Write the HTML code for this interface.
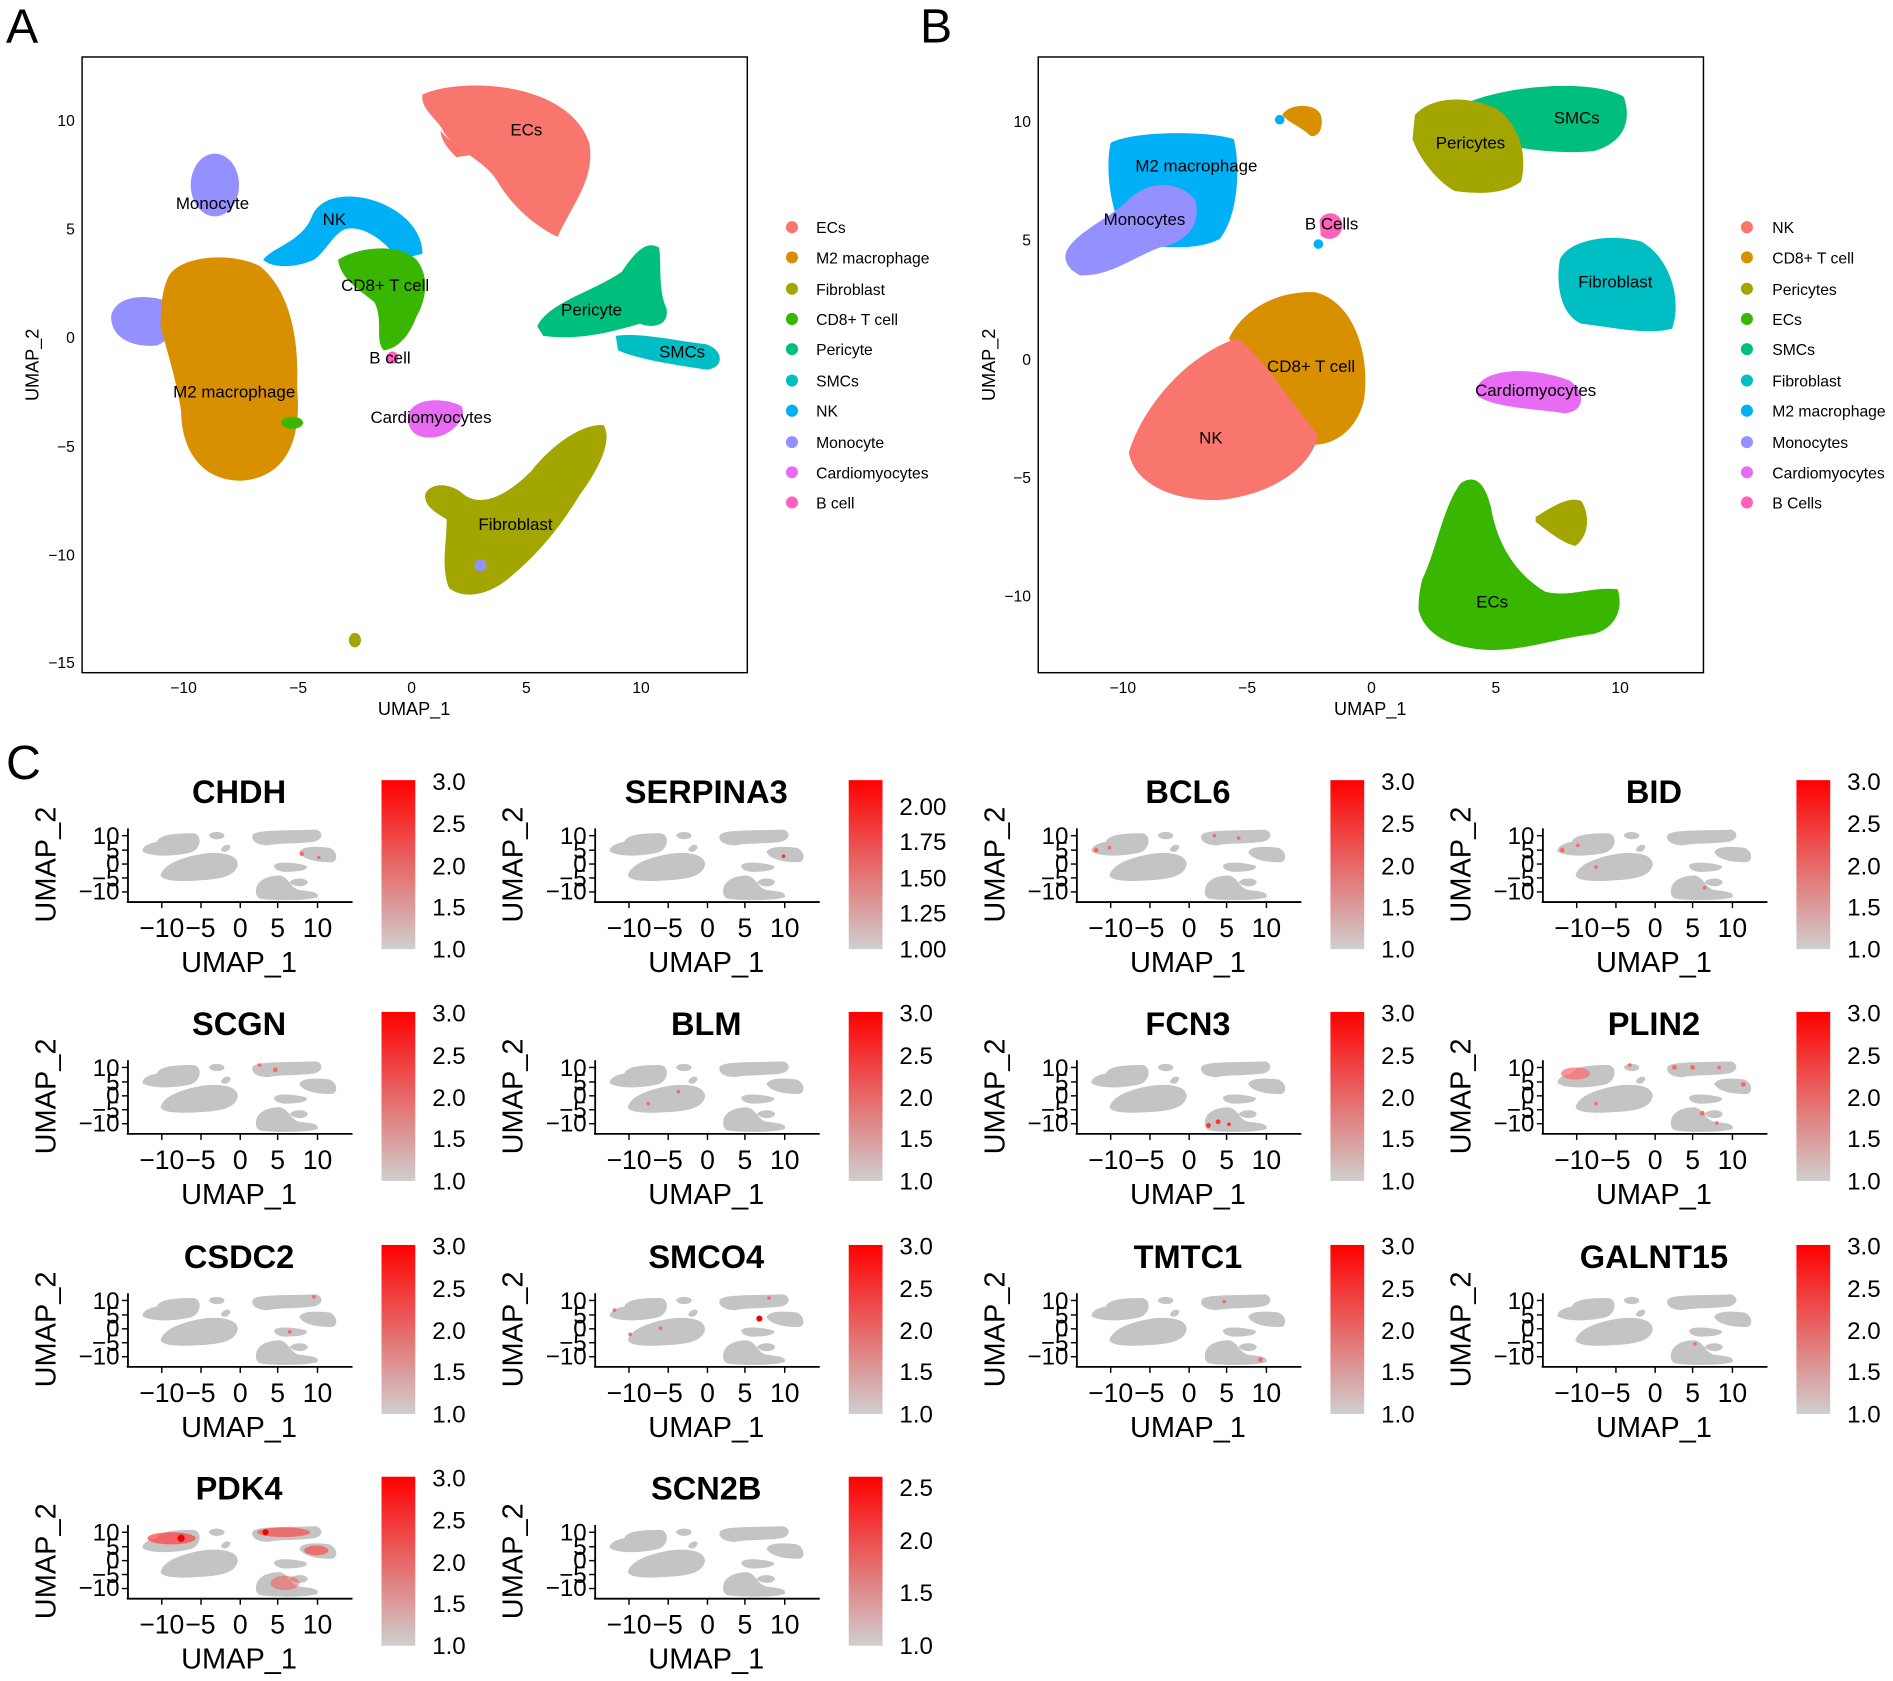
<!DOCTYPE html>
<html><head><meta charset="utf-8"><style>html,body{margin:0;padding:0;background:#fff}svg{display:block}text{font-family:"Liberation Sans",Arial,sans-serif}</style></head><body>
<svg width="1893" height="1681" viewBox="0 0 1568 1392" xmlns="http://www.w3.org/2000/svg">
<defs>
<linearGradient id="cb" x1="0" y1="0" x2="0" y2="1"><stop offset="0" stop-color="#ff0000"/><stop offset="1" stop-color="#cfcfcf"/></linearGradient>
<g id="mini" fill="#c4c4c4">
<path d="M118,705 C118,700 125,698 130,697 C132,692 140,690 160,690 C168,691 167,703 158,706 C145,709 125,710 118,705 Z"/>
<path d="M133,725 C135,716 150,710 168,707 C185,705 197,708 197,716 C195,725 185,728 165,729 C150,730 135,730 133,725 Z"/>
<path d="M173,692 C174,688 185,688 186,692 C185,696 175,696 173,692 Z"/>
<path d="M183,704 C184,700 189,698 191,701 C190,705 186,707 183,704 Z"/>
<path d="M209,692 C211,687 230,688 262,687 C268,689 268,695 260,697 C245,699 230,698 222,700 C214,700 208,697 209,692 Z"/>
<path d="M248,706 C249,700 265,701 273,702 C280,705 280,713 275,714 C262,714 252,712 248,706 Z"/>
<path d="M227,717 C228,713 245,714 254,717 C256,721 245,722 235,722 C229,721 227,719 227,717 Z"/>
<path d="M212,738 C212,730 220,725 232,725 C240,727 240,735 248,737 C258,738 265,739 263,743 C255,746 225,746 215,744 C212,742 212,740 212,738 Z"/>
<path d="M240,731 C241,727 252,726 255,730 C255,734 246,736 240,731 Z"/>
</g>
<g id="cbar"><rect x="316" y="646" width="28" height="140" fill="url(#cb)"/></g>
<g id="ax">
<line x1="106" y1="686" x2="106" y2="747" stroke="#000" stroke-width="1.5"/>
<line x1="105" y1="747" x2="292" y2="747" stroke="#000" stroke-width="1.5"/>
<g stroke="#000" stroke-width="1.2"><line x1="134" y1="747" x2="134" y2="752"/><line x1="166.5" y1="747" x2="166.5" y2="752"/><line x1="199" y1="747" x2="199" y2="752"/><line x1="230" y1="747" x2="230" y2="752"/><line x1="263" y1="747" x2="263" y2="752"/>
<line x1="101" y1="692" x2="106" y2="692"/><line x1="101" y1="704" x2="106" y2="704"/><line x1="101" y1="715.5" x2="106" y2="715.5"/><line x1="101" y1="727" x2="106" y2="727"/><line x1="101" y1="738.6" x2="106" y2="738.6"/></g>
</g>
</defs>

<text x="5" y="35" font-size="40">A</text>
<text x="762" y="35" font-size="40">B</text>
<text x="5" y="645" font-size="40">C</text>

<!-- Panel A -->
<rect x="68" y="47" width="551" height="510" fill="none" stroke="#000" stroke-width="1.2"/>
<g font-size="13" text-anchor="middle">
<text x="152" y="574">−10</text><text x="247" y="574">−5</text><text x="341" y="574">0</text><text x="436" y="574">5</text><text x="531" y="574">10</text></g>
<g font-size="13" text-anchor="end">
<text x="62" y="104">10</text><text x="62" y="194">5</text><text x="62" y="284">0</text><text x="62" y="374">−5</text><text x="62" y="464">−10</text><text x="62" y="553">−15</text></g>
<text x="343" y="592" font-size="15" text-anchor="middle">UMAP_1</text>
<text transform="translate(32,302) rotate(-90)" font-size="15" text-anchor="middle">UMAP_2</text>
<path d="M350,78 C380,64 470,66 488,118 C494,148 472,172 462,196 C445,188 425,172 412,150 C402,132 372,122 366,106 C358,95 348,88 350,78 Z" fill="#F8766D"/>
<path d="M365,108 C372,118 385,122 392,128 L378,130 C370,122 365,115 365,108Z" fill="#F8766D"/>
<ellipse cx="178" cy="153" rx="20" ry="26" fill="#9590FF"/>
<path d="M92,262 C95,245 120,242 140,250 C148,262 145,280 130,286 C110,288 92,280 92,262Z" fill="#9590FF"/>
<path d="M218,215 C225,205 250,200 258,180 C265,160 295,158 320,170 C340,180 350,195 350,210 L330,215 C320,200 300,185 285,190 C275,195 270,208 260,215 C245,222 225,222 218,215Z" fill="#00B0F6"/>
<path d="M280,215 C295,205 330,200 345,215 C357,230 352,250 345,262 C340,275 332,288 318,290 C310,282 318,265 310,250 C295,238 282,230 280,215Z" fill="#39B600"/>
<path d="M140,228 C150,212 190,208 215,220 C240,240 248,280 246,320 C250,360 240,395 200,398 C165,398 150,370 150,340 C145,310 138,290 133,270 C133,250 135,238 140,228Z" fill="#D89000"/>
<ellipse cx="242" cy="350" rx="9" ry="5" fill="#39B600"/>
<circle cx="325" cy="296" r="5" fill="#FF62BC"/>
<path d="M445,270 C455,250 490,242 515,225 C525,210 535,198 546,205 C548,220 545,240 552,255 C555,270 540,272 530,268 C505,275 480,282 450,278Z" fill="#00BF7D"/>
<path d="M510,278 C530,275 560,282 585,285 C600,290 600,305 585,306 C560,302 530,298 512,290Z" fill="#00BFC4"/>
<path d="M338,345 C340,330 365,328 382,336 C388,345 375,360 360,362 C345,364 337,356 338,345Z" fill="#E76BF3"/>
<path d="M352,410 C355,400 372,398 385,410 C400,420 420,410 440,390 C460,365 485,350 500,352 C508,365 495,390 480,410 C465,435 445,460 420,480 C405,492 385,497 372,487 C365,470 370,450 370,430 C362,425 352,420 352,410Z" fill="#A3A500"/>
<circle cx="398" cy="468" r="5" fill="#9590FF"/>
<ellipse cx="294" cy="530" rx="5" ry="6" fill="#A3A500"/>
<g font-size="14" text-anchor="middle">
<text x="436" y="112">ECs</text><text x="176" y="173">Monocyte</text><text x="277" y="186">NK</text><text x="319" y="241">CD8+ T cell</text><text x="490" y="261">Pericyte</text><text x="323" y="301">B cell</text><text x="565" y="296">SMCs</text><text x="194" y="329">M2 macrophage</text><text x="357" y="350">Cardiomyocytes</text><text x="427" y="439">Fibroblast</text></g>
<g font-size="13">
<circle cx="656" cy="188" r="5" fill="#F8766D"/><text x="676" y="193">ECs</text>
<circle cx="656" cy="213" r="5" fill="#D89000"/><text x="676" y="218">M2 macrophage</text>
<circle cx="656" cy="239" r="5" fill="#A3A500"/><text x="676" y="244">Fibroblast</text>
<circle cx="656" cy="264" r="5" fill="#39B600"/><text x="676" y="269">CD8+ T cell</text>
<circle cx="656" cy="289" r="5" fill="#00BF7D"/><text x="676" y="294">Pericyte</text>
<circle cx="656" cy="315" r="5" fill="#00BFC4"/><text x="676" y="320">SMCs</text>
<circle cx="656" cy="340" r="5" fill="#00B0F6"/><text x="676" y="345">NK</text>
<circle cx="656" cy="366" r="5" fill="#9590FF"/><text x="676" y="371">Monocyte</text>
<circle cx="656" cy="391" r="5" fill="#E76BF3"/><text x="676" y="396">Cardiomyocytes</text>
<circle cx="656" cy="416" r="5" fill="#FF62BC"/><text x="676" y="421">B cell</text></g>

<!-- Panel B -->
<rect x="860" y="47" width="551" height="510" fill="none" stroke="#000" stroke-width="1.2"/>
<g font-size="13" text-anchor="middle">
<text x="930" y="574">−10</text><text x="1033" y="574">−5</text><text x="1136" y="574">0</text><text x="1239" y="574">5</text><text x="1342" y="574">10</text></g>
<g font-size="13" text-anchor="end">
<text x="854" y="105">10</text><text x="854" y="203">5</text><text x="854" y="302">0</text><text x="854" y="400">−5</text><text x="854" y="498">−10</text></g>
<text x="1135" y="592" font-size="15" text-anchor="middle">UMAP_1</text>
<text transform="translate(824,302) rotate(-90)" font-size="15" text-anchor="middle">UMAP_2</text>
<path d="M920,118 C940,108 1000,108 1022,115 C1028,140 1025,180 1010,198 C990,208 960,205 935,200 C920,180 915,140 920,118Z" fill="#00B0F6"/>
<path d="M885,205 C895,190 920,180 935,165 C950,150 975,148 990,165 C995,185 985,200 960,205 C935,215 920,228 895,228 C882,222 880,212 885,205Z" fill="#9590FF"/>
<path d="M1062,95 C1068,85 1090,85 1094,95 C1097,105 1092,115 1085,112 C1078,105 1068,102 1062,95Z" fill="#D89000"/>
<circle cx="1060" cy="99" r="4" fill="#00B0F6"/>
<path d="M1093,182 C1098,173 1112,175 1112,188 C1110,198 1100,200 1094,195Z" fill="#FF62BC"/>
<circle cx="1092" cy="202" r="4" fill="#00B0F6"/>
<path d="M1215,85 C1250,70 1320,65 1345,80 C1352,100 1345,118 1320,125 C1290,128 1250,122 1225,115Z" fill="#00BF7D"/>
<path d="M1172,95 C1185,80 1215,78 1240,90 C1260,105 1265,130 1260,150 C1245,162 1220,160 1205,158 C1190,150 1175,130 1170,115Z" fill="#A3A500"/>
<path d="M1292,215 C1298,200 1330,192 1360,200 C1385,215 1393,250 1385,272 C1365,278 1330,270 1310,268 C1295,262 1288,240 1292,215Z" fill="#00BFC4"/>
<path d="M1224,320 C1230,305 1270,303 1300,315 C1315,325 1312,342 1295,342 C1270,338 1240,338 1224,328Z" fill="#E76BF3"/>
<path d="M1018,280 C1030,255 1060,240 1090,242 C1120,250 1135,290 1130,330 C1125,355 1105,370 1085,368 C1060,350 1040,320 1018,280Z" fill="#D89000"/>
<path d="M935,375 C945,340 980,295 1025,280 C1050,300 1070,335 1092,360 C1085,390 1050,410 1010,414 C970,415 940,400 935,375Z" fill="#F8766D"/>
<path d="M1178,480 C1190,455 1195,420 1210,400 C1222,392 1230,400 1235,420 C1240,450 1255,475 1280,490 C1300,495 1320,485 1340,488 C1345,505 1338,520 1320,525 C1290,528 1260,540 1230,538 C1200,536 1180,525 1175,505 C1175,495 1176,488 1178,480Z" fill="#39B600"/>
<path d="M1272,428 C1285,420 1300,410 1310,415 C1318,428 1315,445 1305,452 C1295,450 1282,440 1272,432Z" fill="#A3A500"/>
<g font-size="14" text-anchor="middle">
<text x="1306" y="102">SMCs</text><text x="1218" y="123">Pericytes</text><text x="991" y="142">M2 macrophage</text><text x="948" y="186">Monocytes</text><text x="1103" y="190">B Cells</text><text x="1338" y="238">Fibroblast</text><text x="1086" y="308">CD8+ T cell</text><text x="1272" y="328">Cardiomyocytes</text><text x="1003" y="367">NK</text><text x="1236" y="503">ECs</text></g>
<g font-size="13">
<circle cx="1447" cy="188" r="5" fill="#F8766D"/><text x="1468" y="193">NK</text>
<circle cx="1447" cy="213" r="5" fill="#D89000"/><text x="1468" y="218">CD8+ T cell</text>
<circle cx="1447" cy="239" r="5" fill="#A3A500"/><text x="1468" y="244">Pericytes</text>
<circle cx="1447" cy="264" r="5" fill="#39B600"/><text x="1468" y="269">ECs</text>
<circle cx="1447" cy="289" r="5" fill="#00BF7D"/><text x="1468" y="294">SMCs</text>
<circle cx="1447" cy="315" r="5" fill="#00BFC4"/><text x="1468" y="320">Fibroblast</text>
<circle cx="1447" cy="340" r="5" fill="#00B0F6"/><text x="1468" y="345">M2 macrophage</text>
<circle cx="1447" cy="366" r="5" fill="#9590FF"/><text x="1468" y="371">Monocytes</text>
<circle cx="1447" cy="391" r="5" fill="#E76BF3"/><text x="1468" y="396">Cardiomyocytes</text>
<circle cx="1447" cy="416" r="5" fill="#FF62BC"/><text x="1468" y="421">B Cells</text></g>

<!-- Panel C -->
<g>
<use href="#mini"/><use href="#ax"/><use href="#cbar"/>
<text x="198" y="665" font-size="27" font-weight="bold" text-anchor="middle">CHDH</text>
<g font-size="22" text-anchor="middle"><text x="134" y="776">−10</text><text x="166" y="776">−5</text><text x="199" y="776">0</text><text x="230" y="776">5</text><text x="263" y="776">10</text></g>
<text x="198" y="805" font-size="24" text-anchor="middle">UMAP_1</text>
<text transform="translate(46,716) rotate(-90)" font-size="24" text-anchor="middle">UMAP_2</text>
<g font-size="20" text-anchor="end"><text x="99" y="699">10</text><text x="99" y="711">5</text><text x="99" y="722">0</text><text x="99" y="734">−5</text><text x="99" y="745">−10</text></g>
<g font-size="20"><text x="358" y="654">3.0</text><text x="358" y="689">2.5</text><text x="358" y="724">2.0</text><text x="358" y="758">1.5</text><text x="358" y="793">1.0</text></g>
</g>
<g fill="#f66"><circle cx="250" cy="707" r="1.8"/><circle cx="264" cy="710" r="1.5"/></g>

<g transform="translate(387,0)">
<use href="#mini"/><use href="#ax"/><use href="#cbar"/>
<text x="198" y="665" font-size="27" font-weight="bold" text-anchor="middle">SERPINA3</text>
<g font-size="22" text-anchor="middle"><text x="134" y="776">−10</text><text x="166" y="776">−5</text><text x="199" y="776">0</text><text x="230" y="776">5</text><text x="263" y="776">10</text></g>
<text x="198" y="805" font-size="24" text-anchor="middle">UMAP_1</text>
<text transform="translate(46,716) rotate(-90)" font-size="24" text-anchor="middle">UMAP_2</text>
<g font-size="20" text-anchor="end"><text x="99" y="699">10</text><text x="99" y="711">5</text><text x="99" y="722">0</text><text x="99" y="734">−5</text><text x="99" y="745">−10</text></g>
<g font-size="20"><text x="358" y="675">2.00</text><text x="358" y="704">1.75</text><text x="358" y="734">1.50</text><text x="358" y="763">1.25</text><text x="358" y="793">1.00</text></g>
<circle cx="262" cy="709" r="1.5" fill="#f33"/>
</g>

<g transform="translate(786,0)">
<use href="#mini"/><use href="#ax"/><use href="#cbar"/>
<text x="198" y="665" font-size="27" font-weight="bold" text-anchor="middle">BCL6</text>
<g font-size="22" text-anchor="middle"><text x="134" y="776">−10</text><text x="166" y="776">−5</text><text x="199" y="776">0</text><text x="230" y="776">5</text><text x="263" y="776">10</text></g>
<text x="198" y="805" font-size="24" text-anchor="middle">UMAP_1</text>
<text transform="translate(46,716) rotate(-90)" font-size="24" text-anchor="middle">UMAP_2</text>
<g font-size="20" text-anchor="end"><text x="99" y="699">10</text><text x="99" y="711">5</text><text x="99" y="722">0</text><text x="99" y="734">−5</text><text x="99" y="745">−10</text></g>
<g font-size="20"><text x="358" y="654">3.0</text><text x="358" y="689">2.5</text><text x="358" y="724">2.0</text><text x="358" y="758">1.5</text><text x="358" y="793">1.0</text></g>
<g fill="#f66"><circle cx="122" cy="704" r="2"/><circle cx="133" cy="702" r="1.5"/><circle cx="220" cy="692" r="1.5"/><circle cx="240" cy="694" r="1.5"/></g>
</g>

<g transform="translate(1172,0)">
<use href="#mini"/><use href="#ax"/><use href="#cbar"/>
<text x="198" y="665" font-size="27" font-weight="bold" text-anchor="middle">BID</text>
<g font-size="22" text-anchor="middle"><text x="134" y="776">−10</text><text x="166" y="776">−5</text><text x="199" y="776">0</text><text x="230" y="776">5</text><text x="263" y="776">10</text></g>
<text x="198" y="805" font-size="24" text-anchor="middle">UMAP_1</text>
<text transform="translate(46,716) rotate(-90)" font-size="24" text-anchor="middle">UMAP_2</text>
<g font-size="20" text-anchor="end"><text x="99" y="699">10</text><text x="99" y="711">5</text><text x="99" y="722">0</text><text x="99" y="734">−5</text><text x="99" y="745">−10</text></g>
<g font-size="20"><text x="358" y="654">3.0</text><text x="358" y="689">2.5</text><text x="358" y="724">2.0</text><text x="358" y="758">1.5</text><text x="358" y="793">1.0</text></g>
<g fill="#f66"><circle cx="122" cy="704" r="2"/><circle cx="135" cy="700" r="1.5"/><circle cx="150" cy="718" r="1.5"/><circle cx="240" cy="735" r="1.5"/></g>
</g>

<g transform="translate(0,192)">
<use href="#mini"/><use href="#ax"/><use href="#cbar"/>
<text x="198" y="665" font-size="27" font-weight="bold" text-anchor="middle">SCGN</text>
<g font-size="22" text-anchor="middle"><text x="134" y="776">−10</text><text x="166" y="776">−5</text><text x="199" y="776">0</text><text x="230" y="776">5</text><text x="263" y="776">10</text></g>
<text x="198" y="805" font-size="24" text-anchor="middle">UMAP_1</text>
<text transform="translate(46,716) rotate(-90)" font-size="24" text-anchor="middle">UMAP_2</text>
<g font-size="20" text-anchor="end"><text x="99" y="699">10</text><text x="99" y="711">5</text><text x="99" y="722">0</text><text x="99" y="734">−5</text><text x="99" y="745">−10</text></g>
<g font-size="20"><text x="358" y="654">3.0</text><text x="358" y="689">2.5</text><text x="358" y="724">2.0</text><text x="358" y="758">1.5</text><text x="358" y="793">1.0</text></g>
<g fill="#f66"><circle cx="215" cy="690" r="1.5"/><circle cx="228" cy="694" r="2"/></g>
</g>

<g transform="translate(387,192)">
<use href="#mini"/><use href="#ax"/><use href="#cbar"/>
<text x="198" y="665" font-size="27" font-weight="bold" text-anchor="middle">BLM</text>
<g font-size="22" text-anchor="middle"><text x="134" y="776">−10</text><text x="166" y="776">−5</text><text x="199" y="776">0</text><text x="230" y="776">5</text><text x="263" y="776">10</text></g>
<text x="198" y="805" font-size="24" text-anchor="middle">UMAP_1</text>
<text transform="translate(46,716) rotate(-90)" font-size="24" text-anchor="middle">UMAP_2</text>
<g font-size="20" text-anchor="end"><text x="99" y="699">10</text><text x="99" y="711">5</text><text x="99" y="722">0</text><text x="99" y="734">−5</text><text x="99" y="745">−10</text></g>
<g font-size="20"><text x="358" y="654">3.0</text><text x="358" y="689">2.5</text><text x="358" y="724">2.0</text><text x="358" y="758">1.5</text><text x="358" y="793">1.0</text></g>
<g fill="#f66"><circle cx="150" cy="722" r="1.5"/><circle cx="175" cy="712" r="1.5"/></g>
</g>

<g transform="translate(786,192)">
<use href="#mini"/><use href="#ax"/><use href="#cbar"/>
<text x="198" y="665" font-size="27" font-weight="bold" text-anchor="middle">FCN3</text>
<g font-size="22" text-anchor="middle"><text x="134" y="776">−10</text><text x="166" y="776">−5</text><text x="199" y="776">0</text><text x="230" y="776">5</text><text x="263" y="776">10</text></g>
<text x="198" y="805" font-size="24" text-anchor="middle">UMAP_1</text>
<text transform="translate(46,716) rotate(-90)" font-size="24" text-anchor="middle">UMAP_2</text>
<g font-size="20" text-anchor="end"><text x="99" y="699">10</text><text x="99" y="711">5</text><text x="99" y="722">0</text><text x="99" y="734">−5</text><text x="99" y="745">−10</text></g>
<g font-size="20"><text x="358" y="654">3.0</text><text x="358" y="689">2.5</text><text x="358" y="724">2.0</text><text x="358" y="758">1.5</text><text x="358" y="793">1.0</text></g>
<g fill="#f33"><circle cx="215" cy="740" r="2"/><circle cx="223" cy="737" r="2"/><circle cx="232" cy="739" r="1.5"/></g>
</g>

<g transform="translate(1172,192)">
<use href="#mini"/><use href="#ax"/><use href="#cbar"/>
<text x="198" y="665" font-size="27" font-weight="bold" text-anchor="middle">PLIN2</text>
<g font-size="22" text-anchor="middle"><text x="134" y="776">−10</text><text x="166" y="776">−5</text><text x="199" y="776">0</text><text x="230" y="776">5</text><text x="263" y="776">10</text></g>
<text x="198" y="805" font-size="24" text-anchor="middle">UMAP_1</text>
<text transform="translate(46,716) rotate(-90)" font-size="24" text-anchor="middle">UMAP_2</text>
<g font-size="20" text-anchor="end"><text x="99" y="699">10</text><text x="99" y="711">5</text><text x="99" y="722">0</text><text x="99" y="734">−5</text><text x="99" y="745">−10</text></g>
<g font-size="20"><text x="358" y="654">3.0</text><text x="358" y="689">2.5</text><text x="358" y="724">2.0</text><text x="358" y="758">1.5</text><text x="358" y="793">1.0</text></g>
<g fill="#f66"><ellipse cx="133" cy="697" rx="12" ry="5" opacity=".7"/><circle cx="178" cy="690" r="1.5"/><circle cx="215" cy="692" r="2"/><circle cx="230" cy="692" r="2"/><circle cx="252" cy="692" r="1.5"/><circle cx="272" cy="706" r="2"/><circle cx="150" cy="722" r="1.5"/><circle cx="238" cy="730" r="2"/><circle cx="250" cy="738" r="1.5"/></g>
</g>

<g transform="translate(0,385)">
<use href="#mini"/><use href="#ax"/><use href="#cbar"/>
<text x="198" y="665" font-size="27" font-weight="bold" text-anchor="middle">CSDC2</text>
<g font-size="22" text-anchor="middle"><text x="134" y="776">−10</text><text x="166" y="776">−5</text><text x="199" y="776">0</text><text x="230" y="776">5</text><text x="263" y="776">10</text></g>
<text x="198" y="805" font-size="24" text-anchor="middle">UMAP_1</text>
<text transform="translate(46,716) rotate(-90)" font-size="24" text-anchor="middle">UMAP_2</text>
<g font-size="20" text-anchor="end"><text x="99" y="699">10</text><text x="99" y="711">5</text><text x="99" y="722">0</text><text x="99" y="734">−5</text><text x="99" y="745">−10</text></g>
<g font-size="20"><text x="358" y="654">3.0</text><text x="358" y="689">2.5</text><text x="358" y="724">2.0</text><text x="358" y="758">1.5</text><text x="358" y="793">1.0</text></g>
<g fill="#f66"><circle cx="260" cy="689" r="1.5"/><circle cx="240" cy="718" r="1.5"/></g>
</g>

<g transform="translate(387,385)">
<use href="#mini"/><use href="#ax"/><use href="#cbar"/>
<text x="198" y="665" font-size="27" font-weight="bold" text-anchor="middle">SMCO4</text>
<g font-size="22" text-anchor="middle"><text x="134" y="776">−10</text><text x="166" y="776">−5</text><text x="199" y="776">0</text><text x="230" y="776">5</text><text x="263" y="776">10</text></g>
<text x="198" y="805" font-size="24" text-anchor="middle">UMAP_1</text>
<text transform="translate(46,716) rotate(-90)" font-size="24" text-anchor="middle">UMAP_2</text>
<g font-size="20" text-anchor="end"><text x="99" y="699">10</text><text x="99" y="711">5</text><text x="99" y="722">0</text><text x="99" y="734">−5</text><text x="99" y="745">−10</text></g>
<g font-size="20"><text x="358" y="654">3.0</text><text x="358" y="689">2.5</text><text x="358" y="724">2.0</text><text x="358" y="758">1.5</text><text x="358" y="793">1.0</text></g>
<g fill="#f66"><circle cx="122" cy="700" r="1.5"/><circle cx="135" cy="720" r="1.5"/><circle cx="160" cy="715" r="1.5"/><circle cx="242" cy="707" r="2.5" fill="#e00"/><circle cx="250" cy="690" r="1.5"/></g>
</g>

<g transform="translate(786,385)">
<use href="#mini"/><use href="#ax"/><use href="#cbar"/>
<text x="198" y="665" font-size="27" font-weight="bold" text-anchor="middle">TMTC1</text>
<g font-size="22" text-anchor="middle"><text x="134" y="776">−10</text><text x="166" y="776">−5</text><text x="199" y="776">0</text><text x="230" y="776">5</text><text x="263" y="776">10</text></g>
<text x="198" y="805" font-size="24" text-anchor="middle">UMAP_1</text>
<text transform="translate(46,716) rotate(-90)" font-size="24" text-anchor="middle">UMAP_2</text>
<g font-size="20" text-anchor="end"><text x="99" y="699">10</text><text x="99" y="711">5</text><text x="99" y="722">0</text><text x="99" y="734">−5</text><text x="99" y="745">−10</text></g>
<g font-size="20"><text x="358" y="654">3.0</text><text x="358" y="689">2.5</text><text x="358" y="724">2.0</text><text x="358" y="758">1.5</text><text x="358" y="793">1.0</text></g>
<g fill="#f66"><circle cx="228" cy="693" r="1.5"/><circle cx="258" cy="741" r="2"/></g>
</g>

<g transform="translate(1172,385)">
<use href="#mini"/><use href="#ax"/><use href="#cbar"/>
<text x="198" y="665" font-size="27" font-weight="bold" text-anchor="middle">GALNT15</text>
<g font-size="22" text-anchor="middle"><text x="134" y="776">−10</text><text x="166" y="776">−5</text><text x="199" y="776">0</text><text x="230" y="776">5</text><text x="263" y="776">10</text></g>
<text x="198" y="805" font-size="24" text-anchor="middle">UMAP_1</text>
<text transform="translate(46,716) rotate(-90)" font-size="24" text-anchor="middle">UMAP_2</text>
<g font-size="20" text-anchor="end"><text x="99" y="699">10</text><text x="99" y="711">5</text><text x="99" y="722">0</text><text x="99" y="734">−5</text><text x="99" y="745">−10</text></g>
<g font-size="20"><text x="358" y="654">3.0</text><text x="358" y="689">2.5</text><text x="358" y="724">2.0</text><text x="358" y="758">1.5</text><text x="358" y="793">1.0</text></g>
<circle cx="232" cy="728" r="1.5" fill="#f66"/>
</g>

<g transform="translate(0,577)">
<use href="#mini"/><use href="#ax"/><use href="#cbar"/>
<text x="198" y="665" font-size="27" font-weight="bold" text-anchor="middle">PDK4</text>
<g font-size="22" text-anchor="middle"><text x="134" y="776">−10</text><text x="166" y="776">−5</text><text x="199" y="776">0</text><text x="230" y="776">5</text><text x="263" y="776">10</text></g>
<text x="198" y="805" font-size="24" text-anchor="middle">UMAP_1</text>
<text transform="translate(46,716) rotate(-90)" font-size="24" text-anchor="middle">UMAP_2</text>
<g font-size="20" text-anchor="end"><text x="99" y="699">10</text><text x="99" y="711">5</text><text x="99" y="722">0</text><text x="99" y="734">−5</text><text x="99" y="745">−10</text></g>
<g font-size="20"><text x="358" y="654">3.0</text><text x="358" y="689">2.5</text><text x="358" y="724">2.0</text><text x="358" y="758">1.5</text><text x="358" y="793">1.0</text></g>
<g fill="#f44"><ellipse cx="142" cy="697" rx="20" ry="5" opacity=".75"/><ellipse cx="235" cy="692" rx="22" ry="4" opacity=".65"/><ellipse cx="262" cy="707" rx="10" ry="4" opacity=".65"/><ellipse cx="236" cy="734" rx="12" ry="6" opacity=".45"/><circle cx="150" cy="697" r="3" fill="#e00"/><circle cx="220" cy="692" r="2.5" fill="#e00"/></g>
</g>

<g transform="translate(387,577)">
<use href="#mini"/><use href="#ax"/><use href="#cbar"/>
<text x="198" y="665" font-size="27" font-weight="bold" text-anchor="middle">SCN2B</text>
<g font-size="22" text-anchor="middle"><text x="134" y="776">−10</text><text x="166" y="776">−5</text><text x="199" y="776">0</text><text x="230" y="776">5</text><text x="263" y="776">10</text></g>
<text x="198" y="805" font-size="24" text-anchor="middle">UMAP_1</text>
<text transform="translate(46,716) rotate(-90)" font-size="24" text-anchor="middle">UMAP_2</text>
<g font-size="20" text-anchor="end"><text x="99" y="699">10</text><text x="99" y="711">5</text><text x="99" y="722">0</text><text x="99" y="734">−5</text><text x="99" y="745">−10</text></g>
<g font-size="20"><text x="358" y="662">2.5</text><text x="358" y="706">2.0</text><text x="358" y="749">1.5</text><text x="358" y="793">1.0</text></g>
</g>
</svg>
</body></html>
